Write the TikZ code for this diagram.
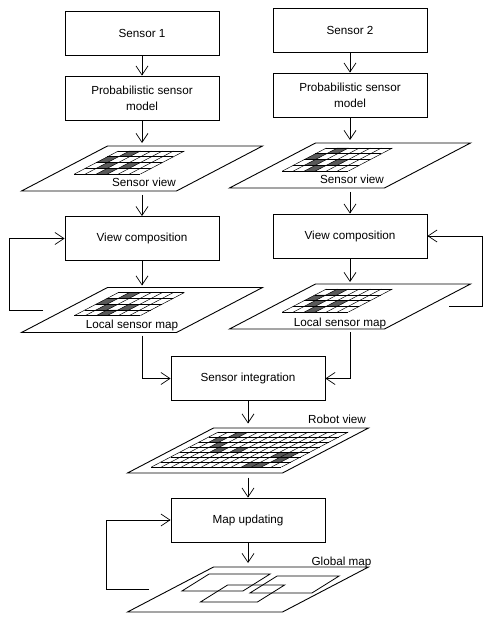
\documentclass[tikz,border=0pt]{standalone}
\usepackage{fontspec}
\setmainfont{Liberation Sans}
\usetikzlibrary{arrows.meta}

\newcommand{\planeedge}{%
  \draw[onplane, line width=0.9pt] (-77.5,-22.5) rectangle (77.5,22.5);
  \coordinate (-n) at (0,-22.5);
  \coordinate (-s) at (0,22.5);
  \coordinate (-w) at (-99,0);
  \coordinate (-e) at (99,0);
}

\tikzset{
  box/.style={draw, line width=0.9pt, minimum width=154pt, minimum height=44pt, align=center},
  flow/.style={line width=0.7pt, -{Straight Barb[length=9pt,width=12pt]}},
  tag/.style={anchor=base},
  onplane/.style={xslant=1.911},
  cell/.style={fill=black!65},
  sensorplane/.pic={
    \planeedge
    \begin{scope}[onplane, line width=0.5pt]
      \foreach \c/\r in {0/1,1/2,2/3,1/0,3/2}
        \fill[cell] (-57+11*\c,-17.5+5.75*\r) rectangle (-46+11*\c,-11.75+5.75*\r);
      \foreach \i in {0,...,6} \draw (-57+11*\i,-17.5) -- (-57+11*\i,5.5);
      \foreach \j in {0,...,4} \draw (-57,-17.5+5.75*\j) -- (9,-17.5+5.75*\j);
    \end{scope}
  },
  robotplane/.pic={
    \planeedge
    \begin{scope}[onplane, line width=0.5pt]
      \foreach \c/\r in {1/1,2/2,3/3,2/0,5/3,10/4,11/4,11/5,9/6,10/6}
        \fill[cell] (-65+10*\c,-18.5+5*\r) rectangle (-55+10*\c,-13.5+5*\r);
      \foreach \i in {0,...,13} \draw (-65+10*\i,-18.5) -- (-65+10*\i,16.5);
      \foreach \j in {0,...,7} \draw (-65,-18.5+5*\j) -- (65,-18.5+5*\j);
    \end{scope}
  },
  mapplane/.pic={
    \planeedge
    \begin{scope}[xslant=1.6, line width=0.8pt]
      \draw (-63.7,-15.5) rectangle (-2.7,1.5);
      \draw (-27.6,-4.5) rectangle (29.4,12.5);
      \draw (7.5,-13.5) rectangle (69.5,3.5);
    \end{scope}
  }
}

\begin{document}
\begin{tikzpicture}[x=1pt, y=-1pt, font=\fontsize{11.7}{16}\selectfont]
  \useasboundingbox (0,0) rectangle (502,628);
  % left branch
  \node[box] (S1) at (142,33) {Sensor 1};
  \node[box] (P1) at (142,98) {Probabilistic sensor\\model};
  \pic (SV1) at (142,168.5) {sensorplane};
  \node[tag] (SV1t) at (144,187) {Sensor view};
  \node[box] (VC1) at (142,238.5) {View composition};
  \pic (LM1) at (142,310) {sensorplane};
  \node[tag] (LM1t) at (132,328) {Local sensor map};
  % right branch
  \node[box] (S2) at (350,30) {Sensor 2};
  \node[box] (P2) at (350,95) {Probabilistic sensor\\model};
  \pic (SV2) at (350,165.5) {sensorplane};
  \node[tag] (SV2t) at (352,184) {Sensor view};
  \node[box] (VC2) at (350,236) {View composition};
  \pic (LM2) at (350,306.5) {sensorplane};
  \node[tag] (LM2t) at (340,326) {Local sensor map};
  % common part
  \node[box] (SI) at (248,378.5) {Sensor integration};
  \pic (RV) at (248,450.5) {robotplane};
  \node[tag] (RVt) at (337,423) {Robot view};
  \node[box] (MU) at (248,520) {Map updating};
  \pic (GM) at (248,589.5) {mapplane};
  \node[tag] (GMt) at (341.5,565) {Global map};
  % connectors
  \draw[flow] (S1) -- (P1);
  \draw[flow, shorten >=3pt] (P1) -- (SV1-n);
  \draw[flow, shorten <=4pt] (SV1-s) -- (VC1);
  \draw[flow, shorten >=2pt] (VC1) -- (LM1-n);
  \draw[flow] (LM1-w) -- ++(-34,0) |- (VC1);
  \draw[flow] (S2) -- (P2);
  \draw[flow, shorten >=3pt] (P2) -- (SV2-n);
  \draw[flow, shorten <=4pt] (SV2-s) -- (VC2);
  \draw[flow, shorten >=2pt] (VC2) -- (LM2-n);
  \draw[flow] (LM2-e) -- ++(33,0) |- (VC2);
  \draw[flow, shorten <=3pt] (LM1-s) |- (SI);
  \draw[flow, shorten <=3pt] (LM2-s) |- (SI);
  \draw[flow, shorten >=4.5pt] (SI) -- (RV-n);
  \draw[flow, shorten <=4.5pt] (RV-s) -- (MU);
  \draw[flow, shorten >=4pt] (MU) -- (GM-n);
  \draw[flow] (GM-w) -- ++(-43,0) |- (MU);
\end{tikzpicture}
\end{document}
